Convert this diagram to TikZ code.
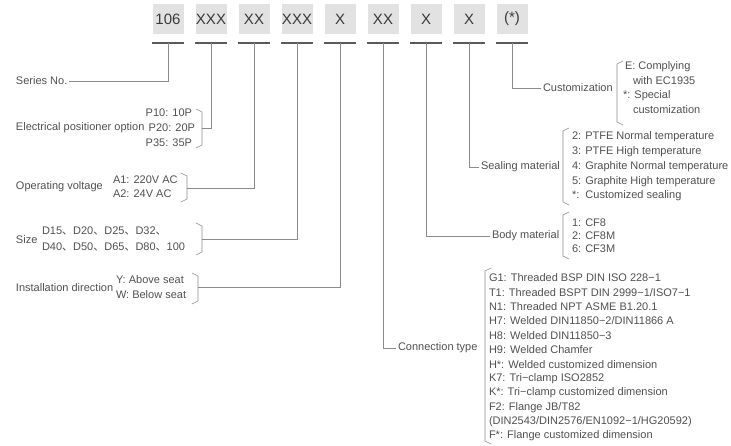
\documentclass[tikz,border=0pt]{standalone}
\usepackage{fontspec}
\setmainfont{Liberation Sans}
\newfontfamily\cjkfont{Noto Sans CJK SC}
\newcommand{\dunhao}{{\cjkfont 、}}
\definecolor{txtgray}{HTML}{505050}
\definecolor{boxtxt}{HTML}{3A3A3A}
\definecolor{boxgray}{HTML}{E2E2E2}
\definecolor{bargray}{HTML}{5A5A5A}
\definecolor{linegray}{HTML}{8C8C8C}
% brackets: x, top y, bottom y
\newcommand{\rbrk}[3]{\draw[brk] (#1-6,#2-2) -- (#1,#2+1) -- (#1,#3-1) -- (#1-6,#3+2);}
\newcommand{\lbrk}[3]{\draw[brk] (#1+6,#2-2) -- (#1,#2+1) -- (#1,#3-1) -- (#1+6,#3+2);}

\begin{document}
\begin{tikzpicture}[x=1pt,y=-1pt,
    box/.style={fill=boxgray,minimum width=31pt,minimum height=30pt,inner sep=0pt,
      text=boxtxt,font=\fontsize{15}{17}\selectfont},
    lbl/.style={anchor=west,inner sep=0pt,outer sep=2pt,text=txtgray,
      font=\fontsize{11}{13}\selectfont},
    bar/.style={draw=bargray,line width=2pt},
    conn/.style={draw=linegray,line width=0.6pt},
    brk/.style={draw=linegray,line width=0.6pt}]
    \useasboundingbox (0,0) rectangle (731,445);

    % code boxes
    \foreach \t [count=\i] in {106,XXX,XX,XXX,X,XX,X,X,{(*)}} {
        \node[box] (b\i) at ({125+43*\i},19) {\t};
        \coordinate (u\i) at ({125+43*\i},43);
        \draw[bar] ({125+43*\i-16},43) -- ({125+43*\i+16},43);
    }

    % left side
    \node[lbl] (series) at (14,81) {Series No.};
    \draw[conn] (u1) |- (series.east);

    \node[lbl] (epo) at (14,128) {Electrical positioner option};
    \node[lbl,anchor=east] (p10) at (194,113) {P10: 10P};
    \node[lbl,anchor=east] (p20) at (197,128) {P20: 20P};
    \node[lbl,anchor=east] (p35) at (194,143) {P35: 35P};
    \rbrk{202}{111}{146}
    \coordinate (pj) at (202,128);
    \draw[conn] (u2) |- (pj);

    \node[lbl] (volt) at (14,187) {Operating voltage};
    \node[lbl] (a1) at (111,180) {A1: 220V AC};
    \node[lbl] (a2) at (111,194) {A2: 24V AC};
    \rbrk{187}{175}{200}
    \coordinate (aj) at (187,188);
    \draw[conn] (u3) |- (aj);

    \node[lbl] (size) at (14,240) {Size};
    \node[lbl] (d1) at (40,231) {D15\dunhao D20\dunhao D25\dunhao D32\dunhao};
    \node[lbl] (d2) at (40,247) {D40\dunhao D50\dunhao D65\dunhao D80\dunhao 100};
    \rbrk{202}{225}{253}
    \coordinate (dj) at (202,239);
    \draw[conn] (u4) |- (dj);

    \node[lbl] (inst) at (14,288) {Installation direction};
    \node[lbl] (y1) at (114,280) {Y: Above seat};
    \node[lbl] (w1) at (114,295) {W: Below seat};
    \rbrk{198}{275}{302}
    \coordinate (ij) at (198,287);
    \draw[conn] (u5) |- (ij);

    % right side
    \node[lbl] (custom) at (541,88) {Customization};
    \draw[conn] (u9) |- (custom.west);
    \lbrk{617}{63}{123}
    \node[lbl] (e1) at (623,67) {E: Complying};
    \node[lbl] (e2) at (631,81) {with EC1935};
    \node[lbl] (s1) at (621,96) {*: Special};
    \node[lbl] (s2) at (631,110) {customization};

    \node[lbl] (seal) at (479,167) {Sealing material};
    \draw[conn] (u8) |- (seal.west);
    \lbrk{563}{130}{203}
    \foreach \t [count=\k] in {2: PTFE Normal temperature,3: PTFE High temperature,
        4: Graphite Normal temperature,5: Graphite High temperature,*:\ \ Customized sealing}
        \node[lbl] (sm\k) at (570,{122+14.8*\k}) {\t};

    \node[lbl] (body) at (490,236) {Body material};
    \draw[conn] (u7) |- (body.west);
    \lbrk{563}{214}{257}
    \foreach \t [count=\k] in {1: CF8,2: CF8M,6: CF3M}
        \node[lbl] (bm\k) at (570,{210+13*\k}) {\t};

    \node[lbl] (ctype) at (396,348) {Connection type};
    \draw[conn] (u6) |- (ctype.west);
    \lbrk{485}{270}{442}
    \foreach \t [count=\k] in {G1: Threaded BSP DIN ISO 228−1,
        T1: Threaded BSPT DIN 2999−1/ISO7−1,
        N1: Threaded NPT ASME B1.20.1,
        H7: Welded DIN11850−2/DIN11866 A,
        H8: Welded DIN11850−3,
        H9: Welded Chamfer,
        H*: Welded customized dimension,
        K7: Tri−clamp ISO2852,
        K*: Tri−clamp customized dimension,
        F2: Flange JB/T82,
        (DIN2543/DIN2576/EN1092−1/HG20592),
        F*: Flange customized dimension}
        \node[lbl] (ct\k) at (487,{263.65+14.35*\k}) {\t};
\end{tikzpicture}
\end{document}
